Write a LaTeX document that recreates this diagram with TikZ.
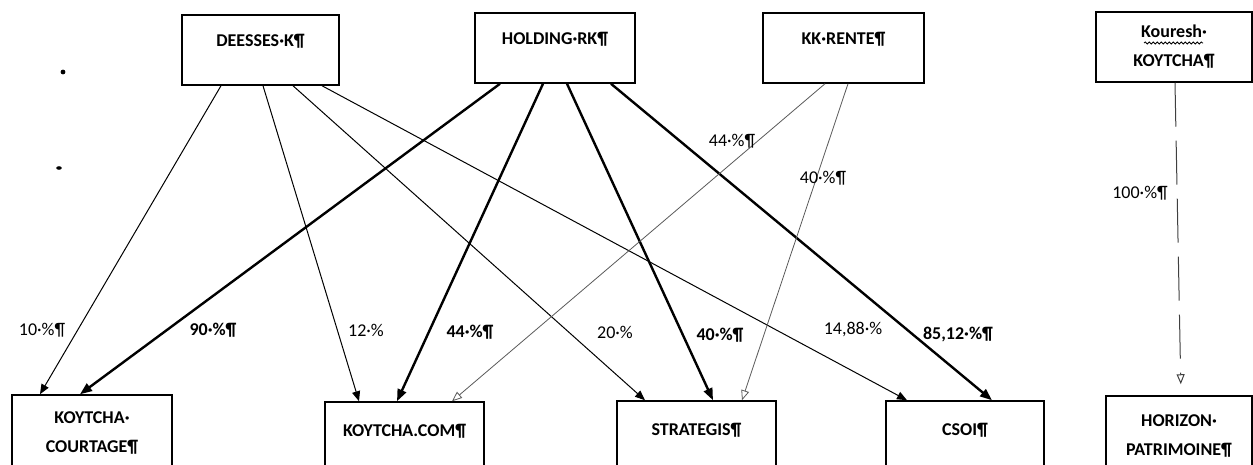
\documentclass[tikz,border=0pt]{standalone}
\usepackage{fontspec}
\setmainfont{Carlito}
\usetikzlibrary{arrows.meta,decorations.pathmorphing}
\tikzset{
    company/.style={
            draw, line width=0.75pt, inner sep=0pt, align=center,
            font=\bfseries\fontsize{9}{14.5}\selectfont
        },
    topbox/.style={company, text height=16pt, text depth=19pt},
    basebox/.style={company, text height=17pt, text depth=20pt},
    twobox/.style={company, minimum height=40pt},
    minor/.style={-{Triangle[length=5pt,width=4pt]}, line width=0.5pt},
    major/.style={-{Triangle[length=6pt,width=4.5pt]}, line width=1.2pt},
    rente/.style={-{Triangle[open,length=5pt,width=4pt]}, line width=0.4pt, black!65},
    pct/.style={font=\fontsize{9}{11}\selectfont},
    pctbold/.style={font=\bfseries\fontsize{9}{11}\selectfont}
}

\begin{document}
\begin{tikzpicture}[x=0.5pt, y=-0.5pt]
        \useasboundingbox (0,0) rectangle (1253,465);

        % shareholders
        \node[topbox, minimum width=78.5pt] (deesses) at (260.5,50) {DEESSES·K¶};
        \node[topbox, minimum width=80pt] (holding) at (555,48) {HOLDING·RK¶};
        \node[topbox, minimum width=80.5pt] (kkrente) at (843.5,48) {KK·RENTE¶};
        \node[company, minimum width=78pt, minimum height=35pt] (kouresh) at (1174,47)
            {Kouresh·\\KOYTCHA¶};

        % companies
        \node[twobox, minimum width=80pt, minimum height=38pt] (courtage) at (92,433) {KOYTCHA·\\COURTAGE¶};
        \node[basebox, minimum width=79.5pt] (kcom) at (404.5,439) {KOYTCHA.COM¶};
        \node[basebox, minimum width=79.5pt] (strategis) at (696.5,438) {STRATEGIS¶};
        \node[basebox, minimum width=79pt] (csoi) at (965,438) {CSOI¶};
        \node[twobox, minimum width=73pt] (horizon) at (1179,436) {HORIZON·\\PATRIMOINE¶};

        % stray marks
        \fill (63,72) circle[radius=1.2pt];
        \fill (59,168) ellipse[x radius=1.4pt, y radius=0.9pt];

        % spelling underline
        \draw[line width=0.4pt, decorate, decoration={snake, amplitude=0.5pt, segment length=2pt}]
            ([shift={(-30,-4)}]kouresh.center) -- ([shift={(29,-4)}]kouresh.center);

        % DEESSES K
        \draw[minor] ([shift={(-39.5,0)}]deesses.south) -- ([shift={(-52,0)}]courtage.north);
        \draw[minor] ([shift={(2.5,0)}]deesses.south) -- ([shift={(-45.5,0)}]kcom.north);
        \draw[minor] ([shift={(32.5,0)}]deesses.south) -- ([shift={(-51.5,0)}]strategis.north);
        \draw[minor] ([shift={(61.5,0)}]deesses.south) -- ([shift={(-58,0)}]csoi.north);

        % HOLDING RK
        \draw[major] ([shift={(-55,0)}]holding.south) -- ([shift={(-12,0)}]courtage.north);
        \draw[major] ([shift={(-12,0)}]holding.south) -- ([shift={(-7.5,0)}]kcom.north);
        \draw[major] ([shift={(12,0)}]holding.south) -- ([shift={(16.5,0)}]strategis.north);
        \draw[major] ([shift={(56,0)}]holding.south) -- ([shift={(27,0)}]csoi.north);

        % KK RENTE
        \draw[rente] ([shift={(-18.5,0)}]kkrente.south) -- ([shift={(47.5,0)}]kcom.north);
        \draw[rente] ([shift={(4.5,0)}]kkrente.south) -- ([shift={(45.5,0)}]strategis.north);

        % Kouresh KOYTCHA
        \draw[rente, black!75, line width=0.5pt, dash pattern=on 22pt off 7pt, shorten >=5.5pt]
            ([shift={(1,0)}]kouresh.south) -- ([shift={(2,0)}]horizon.north);

        % percentages
        \node[pct] (p10) at (42,330) {10·\%¶};
        \node[pct] (p12) at (366,330) {12·\%};
        \node[pct] (p20) at (615,332) {20·\%};
        \node[pct] (p1488) at (853,330) {14,88·\%};
        \node[pctbold] (p90) at (213,330) {90·\%¶};
        \node[pctbold] (p44) at (470,332) {44·\%¶};
        \node[pctbold] (p40) at (720,335) {40·\%¶};
        \node[pctbold] (p8512) at (958,335) {85,12·\%¶};
        \node[pct] (q44) at (732,141) {44·\%¶};
        \node[pct] (q40) at (823,178) {40·\%¶};
        \node[pct] (q100) at (1140,193) {100·\%¶};

    \end{tikzpicture}
\end{document}
